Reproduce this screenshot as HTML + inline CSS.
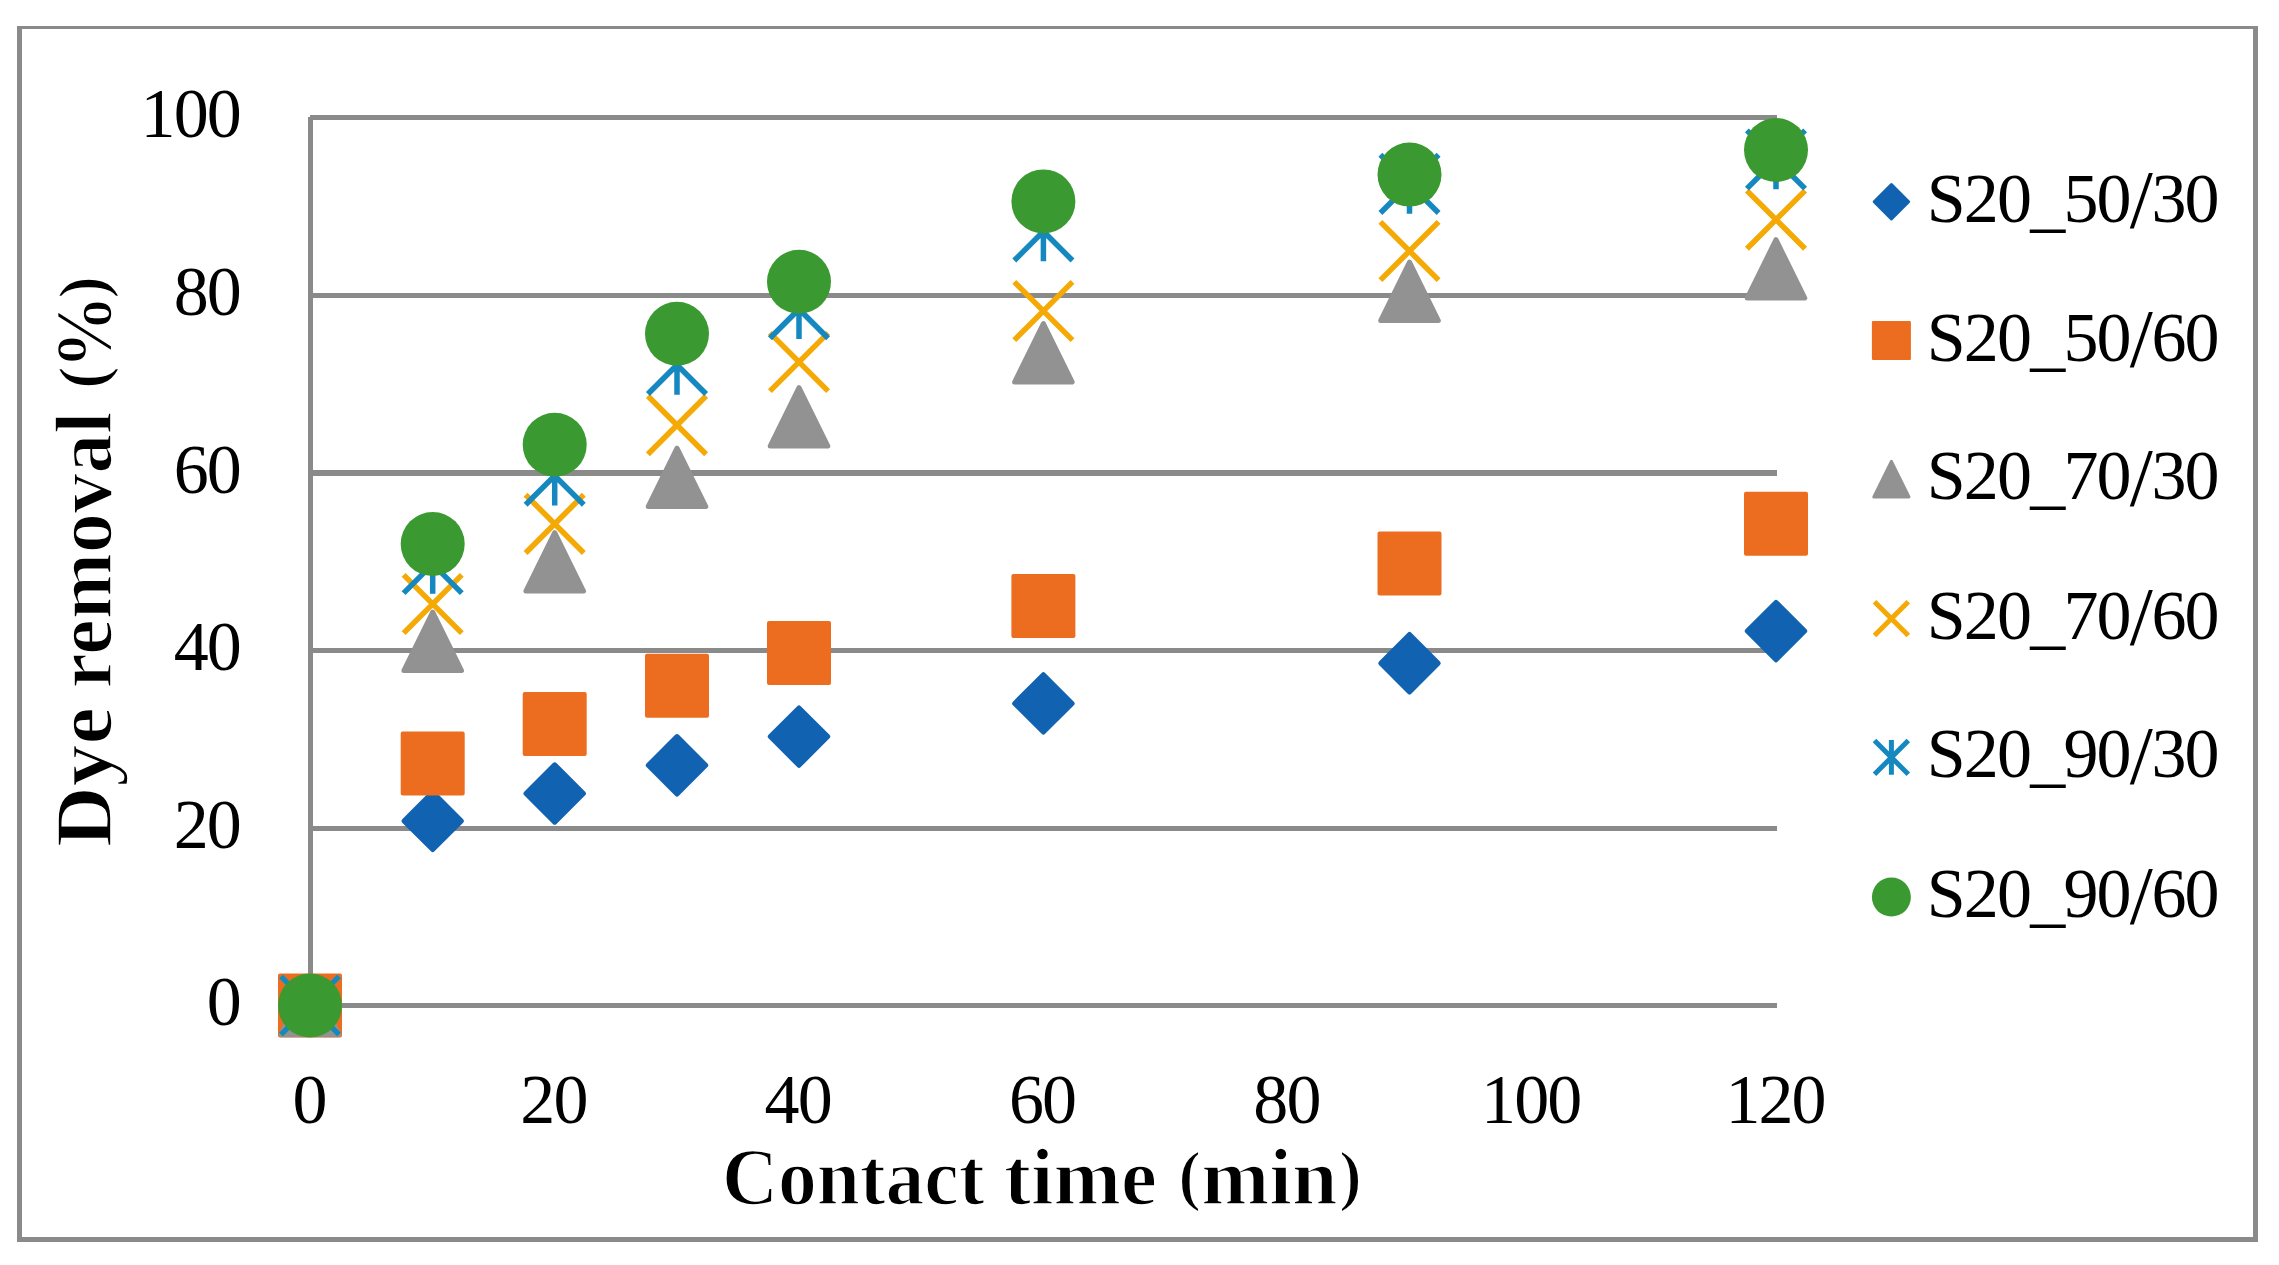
<!DOCTYPE html>
<html lang="en"><head><meta charset="utf-8"><title>Dye removal vs contact time</title>
<style>
html,body{margin:0;padding:0;background:#fff;}
body{width:2279px;height:1265px;overflow:hidden;}
svg{display:block;}
text{font-family:"Liberation Serif",serif;fill:#000;}
.tk{font-size:70px;}
.ttl{font-size:80px;font-weight:bold;stroke:#fff;stroke-width:1.6px;}
</style></head><body>
<svg width="2279" height="1265" viewBox="0 0 2279 1265">
<rect x="0" y="0" width="2279" height="1265" fill="#fff"/>
<g shape-rendering="crispEdges" fill="#8a8a8a">
<rect x="17" y="26" width="2241" height="3"/>
<rect x="17" y="1237" width="2241" height="5"/>
<rect x="17" y="26" width="5" height="1216"/>
<rect x="2253" y="26" width="5" height="1216"/>

<rect x="310" y="1003" width="1467" height="5"/>
<rect x="310" y="826" width="1467" height="5"/>
<rect x="310" y="648" width="1467" height="5"/>
<rect x="310" y="470" width="1467" height="6"/>
<rect x="310" y="293" width="1467" height="5"/>
<rect x="310" y="115" width="1467" height="5"/>
<rect x="308" y="117" width="5" height="889"/>
</g>
<g>
<polygon points="310,976.8 338.7,1005.5 310,1034.2 281.3,1005.5" fill="#1162b1" stroke="#1162b1" stroke-width="5" stroke-linejoin="round"/>
<polygon points="432.7,792.2 461.4,820.9 432.7,849.6 404,820.9" fill="#1162b1" stroke="#1162b1" stroke-width="5" stroke-linejoin="round"/>
<polygon points="554.7,764.8 583.4,793.5 554.7,822.2 526,793.5" fill="#1162b1" stroke="#1162b1" stroke-width="5" stroke-linejoin="round"/>
<polygon points="677,736.6 705.7,765.3 677,794 648.3,765.3" fill="#1162b1" stroke="#1162b1" stroke-width="5" stroke-linejoin="round"/>
<polygon points="799,707.9 827.7,736.6 799,765.3 770.3,736.6" fill="#1162b1" stroke="#1162b1" stroke-width="5" stroke-linejoin="round"/>
<polygon points="1043.4,674.7 1072.1,703.4 1043.4,732.1 1014.7,703.4" fill="#1162b1" stroke="#1162b1" stroke-width="5" stroke-linejoin="round"/>
<polygon points="1409.5,634.5 1438.2,663.2 1409.5,691.9 1380.8,663.2" fill="#1162b1" stroke="#1162b1" stroke-width="5" stroke-linejoin="round"/>
<polygon points="1776,602.4 1804.7,631.1 1776,659.8 1747.3,631.1" fill="#1162b1" stroke="#1162b1" stroke-width="5" stroke-linejoin="round"/>
<rect x="280" y="975.5" width="60" height="60" fill="#ec6d1f" stroke="#ec6d1f" stroke-width="4" stroke-linejoin="round"/>
<rect x="402.7" y="733.5" width="60" height="60" fill="#ec6d1f" stroke="#ec6d1f" stroke-width="4" stroke-linejoin="round"/>
<rect x="524.7" y="694" width="60" height="60" fill="#ec6d1f" stroke="#ec6d1f" stroke-width="4" stroke-linejoin="round"/>
<rect x="647" y="655.8" width="60" height="60" fill="#ec6d1f" stroke="#ec6d1f" stroke-width="4" stroke-linejoin="round"/>
<rect x="769" y="622.9" width="60" height="60" fill="#ec6d1f" stroke="#ec6d1f" stroke-width="4" stroke-linejoin="round"/>
<rect x="1013.4" y="575.9" width="60" height="60" fill="#ec6d1f" stroke="#ec6d1f" stroke-width="4" stroke-linejoin="round"/>
<rect x="1379.5" y="533.6" width="60" height="60" fill="#ec6d1f" stroke="#ec6d1f" stroke-width="4" stroke-linejoin="round"/>
<rect x="1746" y="493.8" width="60" height="60" fill="#ec6d1f" stroke="#ec6d1f" stroke-width="4" stroke-linejoin="round"/>
<polygon points="310,976.3 338.8,1034.7 281.2,1034.7" fill="#929292" stroke="#929292" stroke-width="5" stroke-linejoin="round"/>
<polygon points="432.7,612.15 461.5,670.55 403.9,670.55" fill="#929292" stroke="#929292" stroke-width="5" stroke-linejoin="round"/>
<polygon points="554.7,532.65 583.5,591.05 525.9,591.05" fill="#929292" stroke="#929292" stroke-width="5" stroke-linejoin="round"/>
<polygon points="677,448.2 705.8,506.6 648.2,506.6" fill="#929292" stroke="#929292" stroke-width="5" stroke-linejoin="round"/>
<polygon points="799,387.7 827.8,446.1 770.2,446.1" fill="#929292" stroke="#929292" stroke-width="5" stroke-linejoin="round"/>
<polygon points="1043.4,323.6 1072.2,382 1014.6,382" fill="#929292" stroke="#929292" stroke-width="5" stroke-linejoin="round"/>
<polygon points="1409.5,262.2 1438.3,320.6 1380.7,320.6" fill="#929292" stroke="#929292" stroke-width="5" stroke-linejoin="round"/>
<polygon points="1776,239.65 1804.8,298.05 1747.2,298.05" fill="#929292" stroke="#929292" stroke-width="5" stroke-linejoin="round"/>
<path d="M280.9 976.4L339.1 1034.6M280.9 1034.6L339.1 976.4" stroke="#f5a905" stroke-width="5.5" fill="none"/>
<path d="M403.6 574.9L461.8 633.1M403.6 633.1L461.8 574.9" stroke="#f5a905" stroke-width="5.5" fill="none"/>
<path d="M525.6 494.8L583.8 553M525.6 553L583.8 494.8" stroke="#f5a905" stroke-width="5.5" fill="none"/>
<path d="M647.9 396L706.1 454.2M647.9 454.2L706.1 396" stroke="#f5a905" stroke-width="5.5" fill="none"/>
<path d="M769.9 332.9L828.1 391.1M769.9 391.1L828.1 332.9" stroke="#f5a905" stroke-width="5.5" fill="none"/>
<path d="M1014.3 281.9L1072.5 340.1M1014.3 340.1L1072.5 281.9" stroke="#f5a905" stroke-width="5.5" fill="none"/>
<path d="M1380.4 221.9L1438.6 280.1M1380.4 280.1L1438.6 221.9" stroke="#f5a905" stroke-width="5.5" fill="none"/>
<path d="M1746.9 190.6L1805.1 248.8M1746.9 248.8L1805.1 190.6" stroke="#f5a905" stroke-width="5.5" fill="none"/>
<path d="M280.9 976.4L339.1 1034.6M280.9 1034.6L339.1 976.4M310 975.7L310 1035.3" stroke="#1588c0" stroke-width="5.5" fill="none"/>
<path d="M403.6 534.9L461.8 593.1M403.6 593.1L461.8 534.9M432.7 534.2L432.7 593.8" stroke="#1588c0" stroke-width="5.5" fill="none"/>
<path d="M525.6 446.6L583.8 504.8M525.6 504.8L583.8 446.6M554.7 445.9L554.7 505.5" stroke="#1588c0" stroke-width="5.5" fill="none"/>
<path d="M647.9 335.8L706.1 394M647.9 394L706.1 335.8M677 335.1L677 394.7" stroke="#1588c0" stroke-width="5.5" fill="none"/>
<path d="M769.9 280L828.1 338.2M769.9 338.2L828.1 280M799 279.3L799 338.9" stroke="#1588c0" stroke-width="5.5" fill="none"/>
<path d="M1014.3 202.3L1072.5 260.5M1014.3 260.5L1072.5 202.3M1043.4 201.6L1043.4 261.2" stroke="#1588c0" stroke-width="5.5" fill="none"/>
<path d="M1380.4 154.8L1438.6 213M1380.4 213L1438.6 154.8M1409.5 154.1L1409.5 213.7" stroke="#1588c0" stroke-width="5.5" fill="none"/>
<path d="M1746.9 130.4L1805.1 188.6M1746.9 188.6L1805.1 130.4M1776 129.7L1776 189.3" stroke="#1588c0" stroke-width="5.5" fill="none"/>
<circle cx="310" cy="1005.5" r="32" fill="#3a9a31"/>
<circle cx="432.7" cy="544" r="32" fill="#3a9a31"/>
<circle cx="554.7" cy="444.7" r="32" fill="#3a9a31"/>
<circle cx="677" cy="333.8" r="32" fill="#3a9a31"/>
<circle cx="799" cy="281.8" r="32" fill="#3a9a31"/>
<circle cx="1043.4" cy="201.4" r="32" fill="#3a9a31"/>
<circle cx="1409.5" cy="174.6" r="32" fill="#3a9a31"/>
<circle cx="1776" cy="150" r="32" fill="#3a9a31"/>
</g>
<g class="tk">
<text x="206.8" y="1025.3">0</text>
<text x="173.7 206.8" y="848.3">20</text>
<text x="173.7 206.8" y="670.3">40</text>
<text x="173.7 206.8" y="492.8">60</text>
<text x="173.7 206.8" y="315.3">80</text>
<text x="140.6 173.7 206.8" y="137.3">100</text>
</g>
<g class="tk">
<text x="292.5" y="1122.8">0</text>
<text x="520.3 553.4" y="1122.8">20</text>
<text x="764.6 797.7" y="1122.8">40</text>
<text x="1008.9 1042.0" y="1122.8">60</text>
<text x="1253.3 1286.4" y="1122.8">80</text>
<text x="1481.1 1514.2 1547.3" y="1122.8">100</text>
<text x="1725.4 1758.5 1791.6" y="1122.8">120</text>
</g>
<text class="ttl" y="1204"><tspan x="722" textLength="262.5" lengthAdjust="spacingAndGlyphs">Contact</tspan> <tspan x="1003.9" textLength="153" lengthAdjust="spacingAndGlyphs">time</tspan> <tspan x="1178.2" dy="-6.1" font-size="68.5">(</tspan><tspan x="1201.3" dy="6.1" textLength="136.2" lengthAdjust="spacingAndGlyphs">min</tspan><tspan x="1339.1" dy="-6.1" font-size="68.5">)</tspan></text>
<text class="ttl" transform="translate(110.8,847) rotate(-90)" y="0"><tspan x="0" textLength="139.8" lengthAdjust="spacingAndGlyphs">Dye</tspan> <tspan x="158.5" textLength="276.9" lengthAdjust="spacingAndGlyphs">removal</tspan> <tspan x="458.1" dy="-6.1" font-size="68.5">(</tspan><tspan x="478" dy="6.1" textLength="74.3" lengthAdjust="spacingAndGlyphs">%</tspan><tspan x="548.2" dy="-6.1" font-size="68.5">)</tspan></text>
<g class="tk">
<polygon points="1891.4,184.58 1908.62,201.8 1891.4,219.02 1874.18,201.8" fill="#1162b1" stroke="#1162b1" stroke-width="3" stroke-linejoin="round"/>
<text x="1926.8 1963.8 1997 2030.2 2063.4 2096.6 2129.8 2151.4 2184.6" y="221.8" dy="0 0 0 2 -2 0 5.6 -5.6 0">S20_50<tspan font-size="83">/</tspan>30</text>
<rect x="1873.12" y="322.22" width="36.56" height="36.56" fill="#ec6d1f" stroke="#ec6d1f" stroke-width="2.44" stroke-linejoin="round"/>
<text x="1926.8 1963.8 1997 2030.2 2063.4 2096.6 2129.8 2151.4 2184.6" y="360.5" dy="0 0 0 2 -2 0 5.6 -5.6 0">S20_50<tspan font-size="83">/</tspan>60</text>
<polygon points="1891.4,461.41 1908.95,496.99 1873.85,496.99" fill="#929292" stroke="#929292" stroke-width="3.05" stroke-linejoin="round"/>
<text x="1926.8 1963.8 1997 2030.2 2063.4 2096.6 2129.8 2151.4 2184.6" y="499.2" dy="0 0 0 2 -2 0 5.6 -5.6 0">S20_70<tspan font-size="83">/</tspan>30</text>
<path d="M1874.49 601.69L1908.31 635.51M1874.49 635.51L1908.31 601.69" stroke="#f5a905" stroke-width="5" fill="none"/>
<text x="1926.8 1963.8 1997 2030.2 2063.4 2096.6 2129.8 2151.4 2184.6" y="638.6" dy="0 0 0 2 -2 0 5.6 -5.6 0">S20_70<tspan font-size="83">/</tspan>60</text>
<path d="M1874.49 740.49L1908.31 774.31M1874.49 774.31L1908.31 740.49M1891.4 740.09L1891.4 774.71" stroke="#1588c0" stroke-width="5" fill="none"/>
<text x="1926.8 1963.8 1997 2030.2 2063.4 2096.6 2129.8 2151.4 2184.6" y="777.4" dy="0 0 0 2 -2 0 5.6 -5.6 0">S20_90<tspan font-size="83">/</tspan>30</text>
<circle cx="1891.4" cy="897.1" r="19.5" fill="#3a9a31"/>
<text x="1926.8 1963.8 1997 2030.2 2063.4 2096.6 2129.8 2151.4 2184.6" y="917.1" dy="0 0 0 2 -2 0 5.6 -5.6 0">S20_90<tspan font-size="83">/</tspan>60</text>
</g>
</svg></body></html>
